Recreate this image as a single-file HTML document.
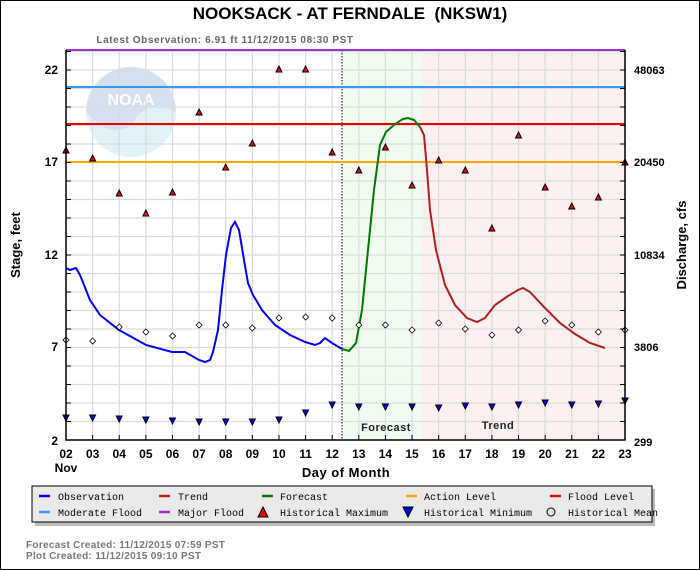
<!DOCTYPE html>
<html><head><style>
body{margin:0;background:#fff}
svg{display:block}
text{font-family:"Liberation Sans",sans-serif}
.m text{font-family:"Liberation Mono","DejaVu Sans Mono",monospace;font-size:10px}
</style></head><body>
<svg width="700" height="570" viewBox="0 0 700 570">
<rect x="0.5" y="0.5" width="699" height="569" fill="#fff" stroke="#000"/>
<text x="350" y="19" text-anchor="middle" font-size="17" font-weight="bold" xml:space="preserve">NOOKSACK - AT FERNDALE  (NKSW1)</text>
<text x="225" y="43" text-anchor="middle" font-size="10" font-weight="bold" fill="#666" letter-spacing="0.6">Latest Observation: 6.91 ft 11/12/2015 08:30 PST</text>
<rect x="342" y="50" width="80" height="390" fill="#f0fcf0"/>
<rect x="422" y="50" width="203" height="390" fill="#fcf0f0"/>
<g opacity="0.35">
<circle cx="131" cy="112" r="45" fill="#a8d8ec"/>
<path d="M86,112 A45,45 0 0 1 176,112 Q150,95 131,125 Q110,140 86,112Z" fill="#8aa8d8"/>
<text x="131" y="105" text-anchor="middle" font-size="16" font-weight="bold" fill="#fff">NOAA</text>
</g>
<g stroke="#dcdcdc" stroke-width="1.3" id="grid"></g>
<line x1="342" y1="50" x2="342" y2="440" stroke="#000" stroke-dasharray="1.5,1.5"/>
<line x1="66" y1="87" x2="625" y2="87" stroke="#3399ff" stroke-width="2"/>
<line x1="66" y1="124" x2="625" y2="124" stroke="#ee0000" stroke-width="2"/>
<line x1="66" y1="162" x2="625" y2="162" stroke="#ffa500" stroke-width="2"/>
<line x1="66" y1="50" x2="625" y2="50" stroke="#9933cc" stroke-width="2"/>
<polyline fill="none" stroke="#0000ee" stroke-width="2" points="66,268 70,270 76,268 80,275 90,300 100,315 119,330 146,345 172,352 185,352 199,360 205,362 210,360 213,352 218,330 222,290 226,255 231,228 235,222 239,230 244,260 248,283 253,295 262,310 275,325 290,335 305,342 315,345 320,343 325,338 332,343 342,349"/>
<polyline fill="none" stroke="#007700" stroke-width="2" points="342,349 349,351 356,343 362,310 368,250 374,190 380,145 386,132 395,124 403,119 408,118 414,120 420,127"/>
<polyline fill="none" stroke="#aa2222" stroke-width="2" points="420,127 424,135 427,170 430,210 436,250 445,285 455,305 467,318 477,322 485,318 495,305 508,296 518,290 523,288 530,292 545,308 560,323 575,334 590,343 605,348"/>
<g id="pts"></g>
<g stroke="#000" stroke-width="1.5" fill="none"><polyline points="66,50 66,440 625,440 625,50"/></g>
<g id="ticks" stroke="#000"></g>
<g font-size="12" font-weight="bold" text-anchor="end">
<text x="58" y="74">22</text><text x="58" y="166">17</text><text x="58" y="259">12</text><text x="58" y="351">7</text><text x="58" y="445">2</text>
</g>
<g font-size="11" font-weight="bold">
<text x="634" y="74">48063</text><text x="634" y="166">20450</text><text x="634" y="259">10834</text><text x="634" y="351">3806</text><text x="634" y="446">299</text>
</g>
<g id="xl" font-size="12" font-weight="bold" text-anchor="middle"></g>
<text x="66" y="472" text-anchor="middle" font-size="12" font-weight="bold">Nov</text>
<text x="346" y="477" text-anchor="middle" font-size="13" font-weight="bold" letter-spacing="0.5">Day of Month</text>
<text x="20" y="245" text-anchor="middle" font-size="13" font-weight="bold" transform="rotate(-90 20 245)">Stage, feet</text>
<text x="686" y="245" text-anchor="middle" font-size="13" font-weight="bold" transform="rotate(-90 686 245)">Discharge, cfs</text>
<text x="386" y="431" text-anchor="middle" font-size="11" font-weight="bold" fill="#222" letter-spacing="0.5">Forecast</text>
<text x="498" y="429" text-anchor="middle" font-size="11" font-weight="bold" fill="#222" letter-spacing="0.5">Trend</text>
<rect x="35" y="489" width="620" height="37" fill="#bbb"/>
<rect x="32" y="486" width="620" height="36" fill="#eaeaea" stroke="#000"/>
<g stroke-width="2.5">
<line x1="39" y1="496" x2="50" y2="496" stroke="#0000ee"/>
<line x1="159" y1="496" x2="170" y2="496" stroke="#aa2222"/>
<line x1="262" y1="496" x2="273" y2="496" stroke="#007700"/>
<line x1="406" y1="496" x2="417" y2="496" stroke="#ffa500"/>
<line x1="550" y1="496" x2="561" y2="496" stroke="#ee0000"/>
<line x1="39" y1="512" x2="50" y2="512" stroke="#3399ff"/>
<line x1="159" y1="512" x2="170" y2="512" stroke="#9933cc"/>
</g>
<polygon points="258,517 263,507 268,517" fill="#ee0000" stroke="#000"/>
<polygon points="403,507 413,507 408,517" fill="#0000ee" stroke="#000"/>
<circle cx="551" cy="512" r="4" fill="none" stroke="#000"/>
<g class="m">
<text x="58" y="500">Observation</text><text x="178" y="500">Trend</text><text x="280" y="500">Forecast</text><text x="424" y="500">Action Level</text><text x="568" y="500">Flood Level</text>
<text x="58" y="516">Moderate Flood</text><text x="178" y="516">Major Flood</text><text x="280" y="516">Historical Maximum</text><text x="424" y="516">Historical Minimum</text><text x="568" y="516">Historical Mean</text>
</g>
<text x="26" y="548" font-size="10" font-weight="bold" fill="#777" letter-spacing="0.3">Forecast Created: 11/12/2015 07:59 PST</text>
<text x="26" y="559" font-size="10" font-weight="bold" fill="#777" letter-spacing="0.3">Plot Created: 11/12/2015 09:10 PST</text>
</svg>
<script>
var ns="http://www.w3.org/2000/svg";
function el(p,t,a){var e=document.createElementNS(ns,t);for(var k in a)e.setAttribute(k,a[k]);document.getElementById(p).appendChild(e);return e;}
function X(i){return 66+i*26.62;}
for(var i=1;i<21;i++)el("grid","line",{x1:X(i),y1:50,x2:X(i),y2:440});
for(var f=3;f<=23;f++){var y=440-(f-2)*18.5;el("grid","line",{x1:66,y1:y,x2:625,y2:y});el("ticks","line",{x1:66,y1:y,x2:71,y2:y});el("ticks","line",{x1:620,y1:y,x2:625,y2:y});}
for(var i=0;i<=21;i++){el("ticks","line",{x1:X(i),y1:435,x2:X(i),y2:440});var t=el("xl","text",{x:X(i),y:458});t.textContent=(i+2<10?"0":"")+(i+2);}
var mx=[150,158,193,213,192,112,167,143,69,69,152,170,147,185,160,170,228,135,187,206,197,162];
var mn=[340,341,327,332,336,325,325,328,318,317,318,325,325,330,323,329,335,330,321,325,332,330];
var mi=[418,418,419,420,421,422,422,422,420,413,405,407,407,407,408,406,407,405,403,405,404,401];
for(var i=0;i<22;i++){var x=X(i);
el("pts","polygon",{points:(x-3)+","+(mx[i]+3)+" "+x+","+(mx[i]-3)+" "+(x+3)+","+(mx[i]+3),fill:"#ee0000",stroke:"#000","stroke-width":1});
el("pts","polygon",{points:(x-3)+","+(mi[i]-3)+" "+(x+3)+","+(mi[i]-3)+" "+x+","+(mi[i]+3),fill:"#0000ee",stroke:"#000","stroke-width":1});
el("pts","polygon",{points:x+","+(mn[i]-3)+" "+(x+3)+","+mn[i]+" "+x+","+(mn[i]+3)+" "+(x-3)+","+mn[i],fill:"#fff",stroke:"#000","stroke-width":0.8});}
</script>
</body></html>
